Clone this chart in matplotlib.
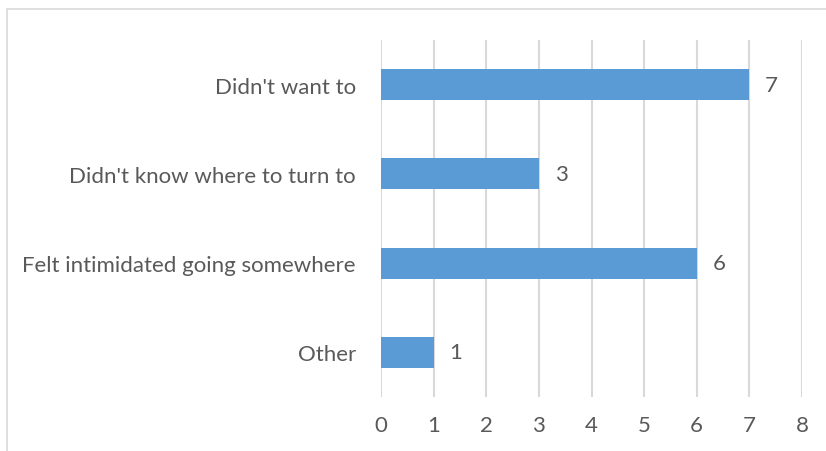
import matplotlib.pyplot as plt
from matplotlib.patches import Rectangle

categories = ["Didn't want to", "Didn't know where to turn to",
              "Felt intimidated going somewhere", "Other"]
counts = [7, 3, 6, 1]
xticks = [0, 1, 2, 3, 4, 5, 6, 7, 8]

plt.rcParams['font.family'] = ['Lato', 'DejaVu Sans']
txt = '#595959'
fs = 16

fig = plt.figure(figsize=(8.26, 4.52), dpi=100)
fig.patches.append(Rectangle((7 / 826, -0.1), 1.2, 1 - 10 / 452 + 0.1,
                             transform=fig.transFigure, fill=False,
                             edgecolor='#d9d9d9', lw=1.2))
ax = fig.add_axes([381 / 826, 54 / 452, 421 / 826, 357 / 452])

y = list(range(len(categories)))
ax.barh(y, counts, height=0.35, color='#5b9bd5', zorder=3)
for yi, v in zip(y, counts):
    ax.text(v + 0.42, yi, str(v), va='center', ha='center',
            fontsize=fs, color=txt)

ax.set_xlim(0, 8)
ax.set_ylim(len(categories) - 0.5, -0.5)
ax.set_xticks(xticks)
ax.set_yticks(y)
ax.set_yticklabels(categories)
ax.xaxis.grid(True, color='#d9d9d9', lw=1.5, zorder=0)
for s in ax.spines.values():
    s.set_visible(False)
ax.tick_params(length=0, labelsize=fs, colors=txt)
ax.tick_params(axis='x', pad=13)
ax.tick_params(axis='y', pad=18)

fig.savefig('out.png', dpi=100)
